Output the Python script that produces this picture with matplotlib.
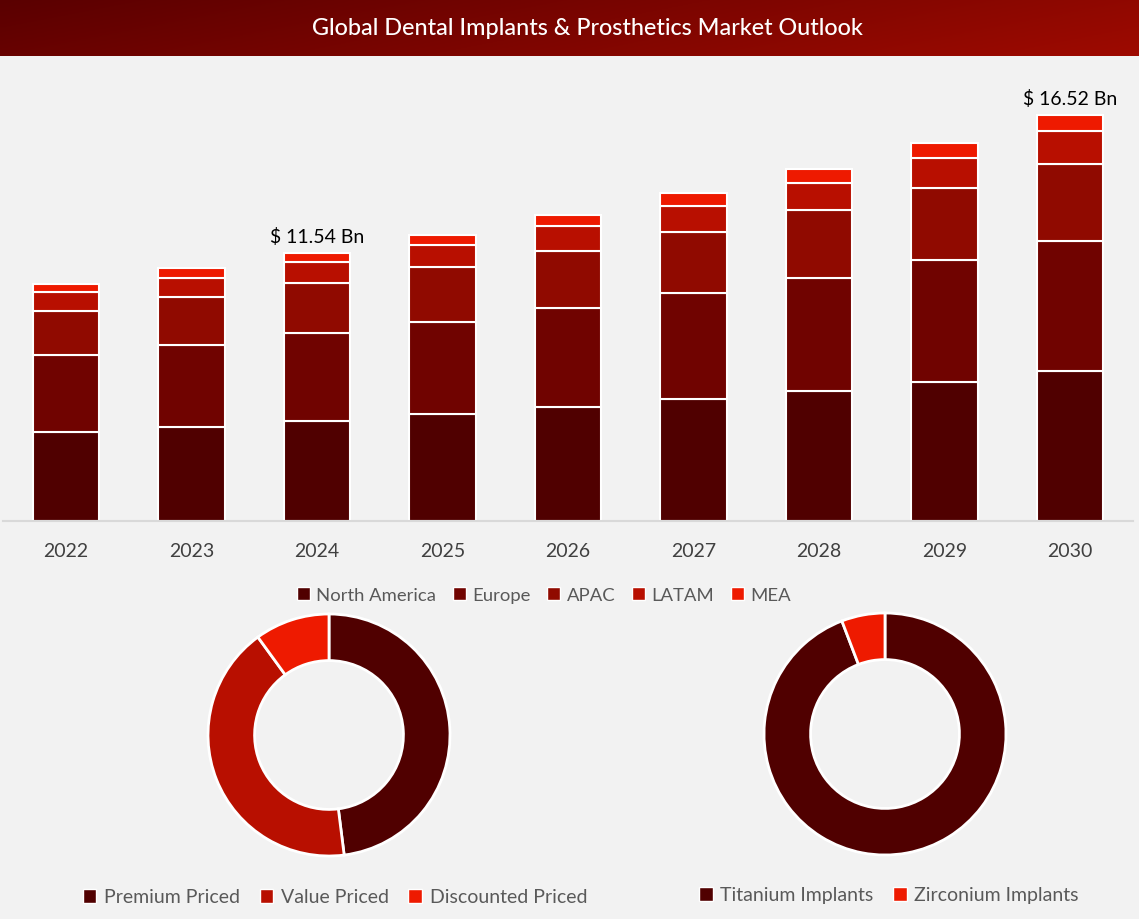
import numpy as np
import matplotlib.pyplot as plt
from matplotlib.patches import Patch

plt.rcParams['font.family'] = ['Lato', 'DejaVu Sans']

# ---- data ----
years = ['2022', '2023', '2024', '2025', '2026', '2027', '2028', '2029', '2030']
regions = ['North America', 'Europe', 'APAC', 'LATAM', 'MEA']
north_america = [3.62, 3.82, 4.07, 4.35, 4.64, 4.96, 5.29, 5.66, 6.10]
europe = [3.13, 3.34, 3.58, 3.74, 4.03, 4.31, 4.60, 4.96, 5.29]
apac = [1.79, 1.95, 2.03, 2.24, 2.32, 2.48, 2.77, 2.93, 3.13]
latam = [0.77, 0.77, 0.85, 0.90, 1.02, 1.06, 1.10, 1.22, 1.34]
mea = [0.33, 0.41, 0.37, 0.41, 0.45, 0.53, 0.57, 0.61, 0.65]
callouts = {2: '$ 11.54 Bn', 8: '$ 16.52 Bn'}

price_labels = ['Premium Priced', 'Value Priced', 'Discounted Priced']
price_share = [48, 42, 10]
material_labels = ['Titanium Implants', 'Zirconium Implants']
material_share = [94.2, 5.8]

region_colors = ['#500000', '#700300', '#900a00', '#b80f00', '#ee1a00']
price_colors = ['#500000', '#b80f00', '#ee1a00']
material_colors = ['#500000', '#ee1a00']
bg = '#f2f2f2'
txt = '#595959'

W, H = 1139, 920
fig = plt.figure(figsize=(W / 100, H / 100), dpi=100, facecolor=bg)

def px_axes(x0, y0, w, h):
    # x0, y0 = top-left in pixels
    return fig.add_axes([x0 / W, 1 - (y0 + h) / H, w / W, h / H])

# title bar with gradient
tax = px_axes(0, 0, W, 57)
gx = np.linspace(0, 1, 300)
gy = np.linspace(0, 1, 30)
gxx, gyy = np.meshgrid(gx, gy)
t = np.clip(0.8 * gxx + 0.2 * gyy, 0, 1)
c0 = np.array([0x5a, 0x00, 0x00]) / 255
c1 = np.array([0x9e, 0x0a, 0x00]) / 255
img = c0[None, None, :] * (1 - t[..., None]) + c1[None, None, :] * t[..., None]
tax.imshow(img, aspect='auto', extent=[0, 1, 0, 1])
tax.set_xlim(0, 1)
tax.set_ylim(0, 1)
tax.axis('off')
tax.text(587 / W, 0.5, 'Global Dental Implants & Prosthetics Market Outlook',
         color='white', fontsize=16.8, fontweight='medium', ha='center', va='center')

# stacked bars
ax = px_axes(3.25, 72, 1129.5, 450)
ax.set_facecolor(bg)
x = np.arange(len(years))
series = [north_america, europe, apac, latam, mea]
bottom = np.zeros(len(years))
for name, vals, col in zip(regions, series, region_colors):
    ax.bar(x, vals, 0.526, bottom=bottom, color=col, edgecolor='white',
           linewidth=1.5, label=name)
    bottom += np.array(vals)
for i, s in callouts.items():
    ax.text(x[i], bottom[i] + 0.35, s, ha='center', va='bottom', fontsize=14, color='black')
ax.set_xlim(-0.5, len(years) - 0.5)
ax.set_ylim(0, 18.31)
ax.set_xticks(x)
ax.set_xticklabels(years, fontsize=14, color='#404040')
ax.tick_params(axis='x', length=0, pad=15)
ax.set_yticks([])
for s in ['top', 'right', 'left']:
    ax.spines[s].set_visible(False)
ax.spines['bottom'].set_color('#d9d9d9')
ax.spines['bottom'].set_linewidth(1.5)

handles = [Patch(facecolor=c, edgecolor='white') for c in region_colors]
fig.legend(handles, regions, loc='center', bbox_to_anchor=(544 / W, 1 - 596 / H),
           ncol=5, frameon=False, fontsize=13.3, labelcolor=txt,
           handlelength=0.7, handleheight=0.7, handletextpad=0.35, columnspacing=0.9)

# donuts
def donut(cx, cy, vals, cols):
    r = 121
    a = px_axes(cx - 130, cy - 130, 260, 260)
    a.pie(vals, colors=cols, startangle=90, counterclock=False, radius=1,
          wedgeprops=dict(width=0.385, edgecolor='white', linewidth=2))
    a.set_xlim(-130 / r, 130 / r)
    a.set_ylim(-130 / r, 130 / r)
    a.set_aspect('equal')
    a.axis('off')

donut(329, 736, price_share, price_colors)
donut(885, 735, material_share, material_colors)

h1 = [Patch(facecolor=c, edgecolor='white') for c in price_colors]
fig.legend(h1, price_labels, loc='center', bbox_to_anchor=(335 / W, 1 - 898 / H),
           ncol=3, frameon=False, fontsize=14, labelcolor=txt,
           handlelength=0.7, handleheight=0.7, handletextpad=0.4, columnspacing=1.0)
h2 = [Patch(facecolor=c, edgecolor='white') for c in material_colors]
fig.legend(h2, material_labels, loc='center', bbox_to_anchor=(889 / W, 1 - 896 / H),
           ncol=2, frameon=False, fontsize=14, labelcolor=txt,
           handlelength=0.7, handleheight=0.7, handletextpad=0.4, columnspacing=1.0)

fig.savefig('out.png', dpi=100, facecolor=bg)
